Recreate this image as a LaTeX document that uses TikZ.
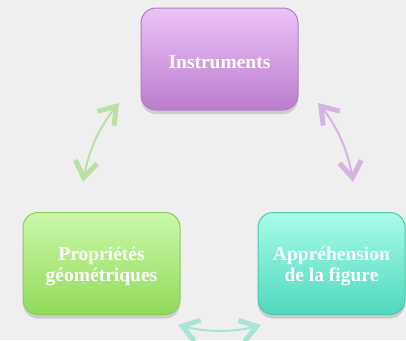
\documentclass[tikz,border=0pt]{standalone}
\usepackage{fontspec}
\setmainfont{Liberation Serif}
\usetikzlibrary{arrows.meta,bending,shadows}
\definecolor{bg}{HTML}{EFEFEF}
\definecolor{purtop}{HTML}{EDC2FA}
\definecolor{purbot}{HTML}{BA7DCB}
\definecolor{purline}{HTML}{B07CC4}
\definecolor{grtop}{HTML}{CAF8AA}
\definecolor{grbot}{HTML}{92DA5A}
\definecolor{grline}{HTML}{88CC58}
\definecolor{tltop}{HTML}{A8FCE9}
\definecolor{tlbot}{HTML}{50D8BE}
\definecolor{tlline}{HTML}{4CC7AE}
\definecolor{garrow}{HTML}{B9E2A2}
\definecolor{parrow}{HTML}{D6B3E0}
\definecolor{tarrow}{HTML}{A9E4D6}
\tikzset{
  box/.style={rectangle, rounded corners=15pt, line width=1pt, minimum height=102pt,
    drop shadow={shadow xshift=0pt, shadow yshift=-4pt, opacity=0.3}},
  lbl/.style={align=center, text=white, font=\bfseries\fontsize{19.5}{21}\selectfont},
  tipb/.tip={Straight Barb[length=16pt,width=22pt,line width=5pt]},
  dbl/.style={line width=2pt, tipb-tipb}
}
\begin{document}
\begin{tikzpicture}[x=1pt,y=-1pt]
\useasboundingbox (0,0) rectangle (406,340);
\fill[bg] (0,0) rectangle (406,340);
\clip (0,0) rectangle (406,340);
\node[box, minimum width=157pt, draw=purline, top color=purtop, bottom color=purbot] (instr) at (219.5,59) {};
\node[box, minimum width=157pt, draw=grline, top color=grtop, bottom color=grbot] (prop) at (101.5,263.5) {};
\node[box, minimum width=147pt, draw=tlline, top color=tltop, bottom color=tlbot] (appr) at (331.5,263.5) {};
\node[lbl] (instrT) at ([yshift=-3pt]instr.center) {Instruments};
\node[lbl] (propT) at ([yshift=-3pt]prop.center) {Propriétés\\géométriques};
\node[lbl] (apprT) at ([yshift=-3pt]appr.center) {Appréhension\\de la figure};
\coordinate (g1) at (83,182);
\coordinate (g2) at (119,103);
\coordinate (p1) at (318,103);
\coordinate (p2) at (353,182);
\coordinate (t1) at (178,325);
\coordinate (t2) at (261,325);
\draw[dbl, draw=garrow] (g1) .. controls (88,150) and (100,125) .. (g2);
\draw[dbl, draw=parrow] (p1) .. controls (335,122) and (349,150) .. (p2);
\draw[dbl, draw=tarrow] (t1) .. controls (205,333) and (235,333) .. (t2);
\end{tikzpicture}
\end{document}
